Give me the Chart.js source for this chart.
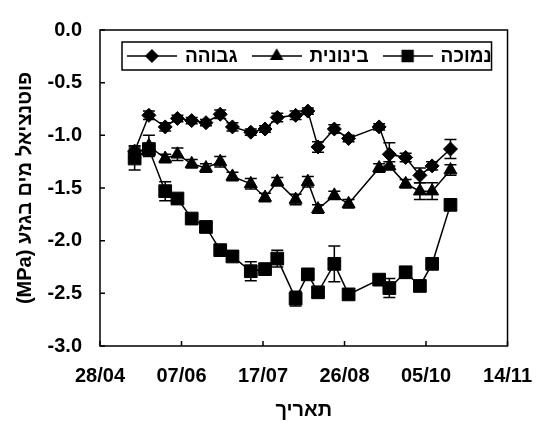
<!DOCTYPE html>
<html>
<head>
<meta charset="utf-8">
<script src="https://cdn.jsdelivr.net/npm/chart.js@4"></script>
<style>
  html, body { margin: 0; padding: 0; background: #fff; }
  #wrap { width: 550px; height: 426px; }
</style>
</head>
<body>
<div id="wrap"><canvas id="grafico"></canvas></div>
<script>
// fechas de medición (dd/mm)
const fechas = ['15/05', '22/05', '30/05', '05/06', '12/06', '19/06', '26/06', '02/07', '11/07', '18/07', '24/07',
                '02/08', '08/08', '13/08', '21/08', '28/08', '12/09', '17/09', '25/09', '02/10', '08/10', '17/10'];
const ticksFechas = ['28/04', '07/06', '17/07', '26/08', '05/10', '14/11'];
const ticksY = [0, -0.5, -1, -1.5, -2, -2.5, -3];

const etiquetas = ['גבוהה', 'בינונית', 'נמוכה'];

const valoresAlta = [-1.15, -0.81, -0.92, -0.84, -0.86, -0.88, -0.80, -0.92, -0.97, -0.94, -0.83,
                     -0.81, -0.77, -1.11, -0.94, -1.03, -0.92, -1.18, -1.21, -1.38, -1.29, -1.13];
const erroresAlta = [0.05, 0.04, 0.04, 0.03, 0.03, 0.03, 0.04, 0.04, 0.03, 0.03, 0.04,
                     0.04, 0.03, 0.05, 0.04, 0.03, 0.03, 0.11, 0.04, 0.07, 0.04, 0.09];

const valoresMedia = [-1.18, -1.10, -1.22, -1.18, -1.27, -1.31, -1.25, -1.39, -1.46, -1.59, -1.44,
                      -1.61, -1.44, -1.70, -1.57, -1.65, -1.31, -1.29, -1.46, -1.53, -1.53, -1.33];
const erroresMedia = [0.05, 0.10, 0.04, 0.06, 0.04, 0.04, 0.05, 0.04, 0.05, 0.04, 0.04,
                      0.05, 0.05, 0.04, 0.04, 0.04, 0.04, 0.04, 0.04, 0.08, 0.08, 0.05];

const valoresBaja = [-1.22, -1.13, -1.53, -1.60, -1.79, -1.87, -2.09, -2.15, -2.29, -2.27, -2.17,
                     -2.55, -2.32, -2.49, -2.22, -2.51, -2.37, -2.45, -2.30, -2.43, -2.22, -1.66];
const erroresBaja = [0.11, 0.05, 0.09, 0.04, 0.03, 0.04, 0.03, 0.04, 0.09, 0.04, 0.08,
                     0.07, 0.04, 0.04, 0.17, 0.03, 0.04, 0.09, 0.03, 0.04, 0.04, 0.05];

// días desde el 28/04
function diasDesde(fecha) {
    const [d, m] = fecha.split('/').map(Number);
    return (Date.UTC(2007, m - 1, d) - Date.UTC(2007, 3, 28)) / 86400000;
}
const dias = fechas.map(diasDesde);
const puntos = vals => vals.map((v, i) => ({ x: dias[i], y: v }));

const FUENTE = '"Liberation Sans", Arial, sans-serif';

// muestra de leyenda: línea con el marcador en el centro
function muestra(estilo, radio) {
    const c = document.createElement('canvas');
    c.width = 50; c.height = 20;
    const ctx = c.getContext('2d');
    ctx.strokeStyle = '#000';
    ctx.fillStyle = '#000';
    ctx.lineWidth = 1.5;
    ctx.beginPath();
    ctx.moveTo(0, 10);
    ctx.lineTo(50, 10);
    ctx.stroke();
    Chart.helpers.drawPoint(ctx, { pointStyle: estilo, radius: radio, rotation: 0, borderWidth: 1 }, 25, 10);
    return c;
}

const series = [
    { label: etiquetas[0], data: puntos(valoresAlta), err: erroresAlta, estilo: 'rectRot', radio: 7 },
    { label: etiquetas[1], data: puntos(valoresMedia), err: erroresMedia, estilo: 'triangle', radio: 7.5 },
    { label: etiquetas[2], data: puntos(valoresBaja), err: erroresBaja, estilo: 'rect', radio: 9 }
];
const muestras = series.map(s => muestra(s.estilo, s.radio * 0.85));

// barras de error, debajo de los marcadores
const barrasError = {
    id: 'barrasError',
    beforeDatasetsDraw(chart) {
        const ctx = chart.ctx;
        const x = chart.scales.x, y = chart.scales.y;
        ctx.save();
        ctx.strokeStyle = '#000';
        ctx.lineWidth = 1.5;
        chart.data.datasets.forEach(ds => {
            ds.data.forEach((p, i) => {
                const px = x.getPixelForValue(p.x);
                const arriba = y.getPixelForValue(p.y + ds.err[i]);
                const abajo = y.getPixelForValue(p.y - ds.err[i]);
                ctx.beginPath();
                ctx.moveTo(px, arriba); ctx.lineTo(px, abajo);
                ctx.moveTo(px - 6, arriba); ctx.lineTo(px + 6, arriba);
                ctx.moveTo(px - 6, abajo); ctx.lineTo(px + 6, abajo);
                ctx.stroke();
            });
        });
        ctx.restore();
    }
};

// marco del área con marcas hacia adentro
const marco = {
    id: 'marco',
    afterDraw(chart) {
        const ctx = chart.ctx;
        const a = chart.chartArea;
        ctx.save();
        ctx.strokeStyle = '#000';
        ctx.lineWidth = 1.5;
        ctx.strokeRect(a.left, a.top, a.right - a.left, a.bottom - a.top);

        ctx.beginPath();
        chart.scales.y.ticks.forEach(t => {
            const py = chart.scales.y.getPixelForValue(t.value);
            ctx.moveTo(a.left, py); ctx.lineTo(a.left + 5, py);
        });
        chart.scales.x.ticks.forEach(t => {
            const px = chart.scales.x.getPixelForValue(t.value);
            ctx.moveTo(px, a.bottom); ctx.lineTo(px, a.bottom - 5);
        });
        ctx.stroke();
        ctx.restore();
    }
};

// leyenda en recuadro dentro del área del gráfico
const leyenda = {
    id: 'leyenda',
    afterDraw(chart) {
        const ctx = chart.ctx;
        const a = chart.chartArea;
        const izq = a.left + 22, der = a.right - 16;
        const sup = a.top + 12, inf = a.top + 40;
        const centroY = (sup + inf) / 2;
        const anchoMuestra = 50, hueco = 8, separacion = 14;

        ctx.save();
        ctx.font = 'bold 19px ' + FUENTE;
        ctx.fillStyle = '#000';
        ctx.textBaseline = 'middle';
        ctx.textAlign = 'left';
        const anchos = chart.data.datasets.map(ds => ctx.measureText(ds.label).width);
        const total = anchos.reduce((s, w) => s + anchoMuestra + hueco + w, 0) + separacion * (anchos.length - 1);
        let x = izq + 8 + ((der - izq - 11) - total) / 2;
        chart.data.datasets.forEach((ds, i) => {
            ctx.drawImage(muestras[i], x, centroY - 10);
            x += anchoMuestra + hueco;
            ctx.fillText(ds.label, x, centroY + 1);
            x += anchos[i] + separacion;
        });
        ctx.strokeStyle = '#000';
        ctx.lineWidth = 1.5;
        ctx.strokeRect(izq, sup, der - izq, inf - sup);
        ctx.restore();
    }
};

new Chart(document.getElementById('grafico'), {
    type: 'line',
    data: {
        datasets: series.map(s => ({
            label: s.label,
            data: s.data,
            err: s.err,
            borderColor: '#000',
            borderWidth: 1.5,
            backgroundColor: '#000',
            pointStyle: s.estilo,
            pointRadius: s.radio,
            pointBorderWidth: 1,
            pointBackgroundColor: '#000',
            pointBorderColor: '#000',
            tension: 0,
            fill: false
        }))
    },
    options: {
        responsive: true,
        maintainAspectRatio: false,
        animation: false,
        devicePixelRatio: 1,
        layout: { padding: { top: 20, right: 28, left: 0, bottom: 0 } },
        plugins: {
            tooltip: { enabled: false },
            legend: { display: false }
        },
        scales: {
            x: {
                type: 'linear',
                min: 0,
                max: 200,
                grid: { display: false, drawTicks: false },
                border: { display: false },
                afterFit: s => { s.height = 80; },
                afterBuildTicks: s => { s.ticks = ticksFechas.map((_, i) => ({ value: i * 40 })); },
                ticks: {
                    stepSize: 40,
                    padding: 18,
                    maxRotation: 0,
                    autoSkip: false,
                    color: '#000',
                    font: { family: FUENTE, size: 20, weight: 'bold' },
                    callback: (v, i) => ticksFechas[i]
                },
                title: {
                    display: true,
                    text: 'תאריך',
                    color: '#000',
                    padding: { top: 0, bottom: 4 },
                    font: { family: FUENTE, size: 20, weight: 'bold' }
                }
            },
            y: {
                min: -3,
                max: 0,
                grid: { display: false, drawTicks: false },
                border: { display: false },
                afterFit: s => { s.width = 100; },
                afterBuildTicks: s => { s.ticks = ticksY.map(v => ({ value: v })); },
                ticks: {
                    stepSize: 0.5,
                    padding: 18,
                    color: '#000',
                    font: { family: FUENTE, size: 20, weight: 'bold' },
                    callback: v => v.toFixed(1)
                },
                title: {
                    display: true,
                    text: '\u202Bפוטנציאל מים בגזע (MPa)\u202C',
                    color: '#000',
                    padding: { top: 13, bottom: 0 },
                    font: { family: FUENTE, size: 20, weight: 'bold' }
                }
            }
        }
    },
    plugins: [barrasError, marco, leyenda]
});
</script>
</body>
</html>
